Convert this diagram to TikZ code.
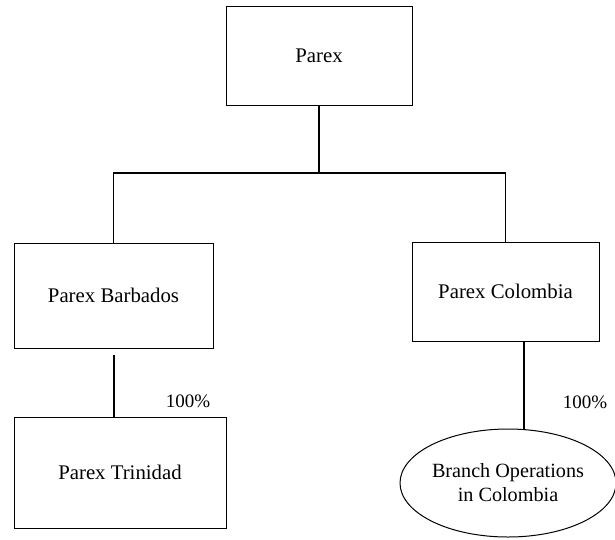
\documentclass[tikz,border=0pt]{standalone}
\usepackage{fontspec}
\setmainfont{Liberation Serif}
\usetikzlibrary{shapes.geometric}
\begin{document}
\begin{tikzpicture}[x=1pt,y=1pt,
  box/.style={draw=black,line width=1pt,rectangle,inner sep=0pt,font=\fontsize{20.8}{24}\selectfont},
  oval/.style={draw=black,line width=1pt,ellipse,inner sep=0pt,align=center,font=\fontsize{20.2}{24}\selectfont},
  conn/.style={draw=black,line width=1.2pt},
  pct/.style={inner sep=0pt,font=\fontsize{19}{22}\selectfont}]
\useasboundingbox (0,0) rectangle (615,-539);
\node[box,minimum width=186pt,minimum height=99pt] (parex) at (319,-55.5) {Parex};
\node[box,minimum width=199pt,minimum height=105pt] (barb) at (113.5,-295.5) {Parex Barbados};
\node[box,minimum width=187pt,minimum height=99pt] (col) at (505.5,-291.5) {Parex Colombia};
\node[box,minimum width=212pt,minimum height=111pt] (trin) at (120,-472.5) {Parex Trinidad};
\node[oval,minimum width=216pt,minimum height=108pt] (br) at (508,-483) {Branch Operations\\in Colombia};
\coordinate (bus) at (319,-173);
\draw[conn,line width=1.6pt] (parex.south) -- (parex.south |- bus);
\draw[conn] (barb.north) |- (col.north |- bus) -- (col.north);
\draw[conn,shorten <=6pt] (barb.south -| 114,0) -- (114,0 |- trin.north);
\draw[conn] ([xshift=18.5pt]col.south) -- ([xshift=18.5pt]col.south |- br.north);
\node[pct] (p1) at (188,-401) {100\%};
\node[pct] (p2) at (585,-402) {100\%};
\end{tikzpicture}
\end{document}
